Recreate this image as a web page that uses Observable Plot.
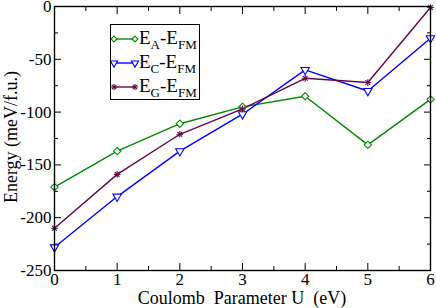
<!DOCTYPE html>
<html><head><meta charset="utf-8">
<script src="https://cdn.jsdelivr.net/npm/d3@7"></script>
<script src="https://cdn.jsdelivr.net/npm/@observablehq/plot@0.6"></script>
<style>
body{margin:0;background:#ffffff}
#chart{position:relative;width:436px;height:308px}
#chart svg{font-family:"Liberation Serif","Times New Roman",serif}
#legbox{position:absolute;left:110px;top:24px;width:88px;height:74px;border:1px solid #000000;background:transparent;pointer-events:none}
</style></head>
<body><div id="chart"><div id="legbox"></div></div>
<script>
// data
const U = [0, 1, 2, 3, 4, 5, 6];
const eA = [-171, -137, -111, -95, -85, -131, -88];
const eC = [-228, -180, -137, -102, -60, -80, -30];
const eG = [-210, -159, -121, -97, -68, -72, -1];
const seriesNames = ["A", "C", "G"];
const seriesColors = ["#008b00", "#0000ff", "#670748"];
const xMajor = [0, 1, 2, 3, 4, 5, 6];
const xMinor = [0.5, 1.5, 2.5, 3.5, 4.5, 5.5];
const yMajor = [-250, -200, -150, -100, -50, 0];
const yMinor = [-225, -175, -125, -75, -25];
const xTitle = "Coulomb  Parameter U  (eV)";
const yTitle = "Energy (meV/f.u.)";

const rows = [];
[eA, eC, eG].forEach((vals, i) => vals.forEach((v, j) => rows.push({U: U[j], E: v, s: seriesNames[i]})));
const byS = s => rows.filter(d => d.s === s);
const col = s => seriesColors[seriesNames.indexOf(s)];

const blank = () => "";
const plot = Plot.plot({
  width: 436, height: 308,
  marginLeft: 54, marginRight: 6, marginTop: 6, marginBottom: 38,
  style: {fontSize: "17px", fontFamily: "Liberation Serif, serif", background: "#ffffff"},
  x: {domain: [0, 6], label: null},
  y: {domain: [-250, 0], label: null},
  marks: [
    Plot.axisX(xMajor, {anchor: "bottom", tickSize: 0, tickPadding: 2, tickFormat: d => String(d), label: null, fill: "black"}),
    Plot.axisX(xMajor, {anchor: "bottom", tickSize: -7, tickFormat: blank, label: null}),
    Plot.axisX(xMinor, {anchor: "bottom", tickSize: -4, tickFormat: blank, label: null}),
    Plot.axisX(xMajor, {anchor: "top", tickSize: -7, tickFormat: blank, label: null}),
    Plot.axisX(xMinor, {anchor: "top", tickSize: -4, tickFormat: blank, label: null}),
    Plot.axisY(yMajor, {anchor: "left", tickSize: 0, tickPadding: 3, tickFormat: d => String(d), label: null, fill: "black"}),
    Plot.axisY(yMajor, {anchor: "left", tickSize: -7, tickFormat: blank, label: null}),
    Plot.axisY(yMinor, {anchor: "left", tickSize: -4, tickFormat: blank, label: null}),
    Plot.axisY(yMajor, {anchor: "right", tickSize: -7, tickFormat: blank, label: null}),
    Plot.axisY(yMinor, {anchor: "right", tickSize: -4, tickFormat: blank, label: null}),
    Plot.line(byS("A"), {x: "U", y: "E", stroke: col("A"), strokeWidth: 1.4}),
    Plot.line(byS("C"), {x: "U", y: "E", stroke: col("C"), strokeWidth: 1.4}),
    Plot.line(byS("G"), {x: "U", y: "E", stroke: col("G"), strokeWidth: 1.4}),
    Plot.dot(byS("A"), {x: "U", y: "E", symbol: "diamond2", r: 3.3, stroke: col("A"), fill: "#ffffff", strokeWidth: 1.1}),
    Plot.dot(byS("C"), {x: "U", y: "E", symbol: "triangle", rotate: 180, r: 3.1, stroke: col("C"), fill: "#ffffff", strokeWidth: 1.1}),
    Plot.dot(byS("G"), {x: "U", y: "E", symbol: "plus", r: 2.3, stroke: col("G"), strokeWidth: 1.1}),
    Plot.dot(byS("G"), {x: "U", y: "E", symbol: "times", r: 2.3, stroke: col("G"), strokeWidth: 1.1}),
    Plot.frame({stroke: "black", strokeWidth: 1.4})
  ]
});
const chart = document.getElementById("chart");
chart.insertBefore(plot, chart.firstChild);

const svg = d3.select(plot);
// axis titles
svg.append("text").attr("x", 242).attr("y", 304).attr("text-anchor", "middle")
  .attr("font-size", 18).attr("fill", "black").text(xTitle);
svg.append("text").attr("transform", "translate(17,137) rotate(-90)").attr("text-anchor", "middle")
  .attr("font-size", 18).attr("fill", "black").text(yTitle);

// legend entries
const lg = svg.append("g").attr("text-anchor", "start");
const symFor = {A: d3.symbolDiamond2, C: d3.symbolTriangle, G: null};
seriesNames.forEach((s, i) => {
  const cy = 39 + i * 24;
  const c = col(s);
  lg.append("line").attr("x1", 114).attr("x2", 135).attr("y1", cy).attr("y2", cy).attr("stroke", c).attr("stroke-width", 1.4);
  [114, 135].forEach(cx => {
    if (s === "G") {
      lg.append("path").attr("transform", `translate(${cx},${cy})`).attr("d", d3.symbol(d3.symbolPlus, 14)()).attr("fill", "none").attr("stroke", c).attr("stroke-width", 1.1);
      lg.append("path").attr("transform", `translate(${cx},${cy})`).attr("d", d3.symbol(d3.symbolTimes, 14)()).attr("fill", "none").attr("stroke", c).attr("stroke-width", 1.1);
    } else {
      lg.append("path").attr("transform", `translate(${cx},${cy})` + (s === "C" ? " rotate(180)" : ""))
        .attr("d", d3.symbol(symFor[s], 22)()).attr("fill", "#ffffff").attr("stroke", c).attr("stroke-width", 1.1);
    }
  });
  const t = lg.append("text").attr("x", 139).attr("y", cy + 5).attr("font-size", 19).attr("fill", "black");
  t.append("tspan").text("E");
  t.append("tspan").attr("font-size", 13).attr("dy", 5).text(s);
  t.append("tspan").attr("dy", -5).text("-E");
  t.append("tspan").attr("font-size", 13).attr("dy", 5).text("FM");
});
</script>
</body></html>
